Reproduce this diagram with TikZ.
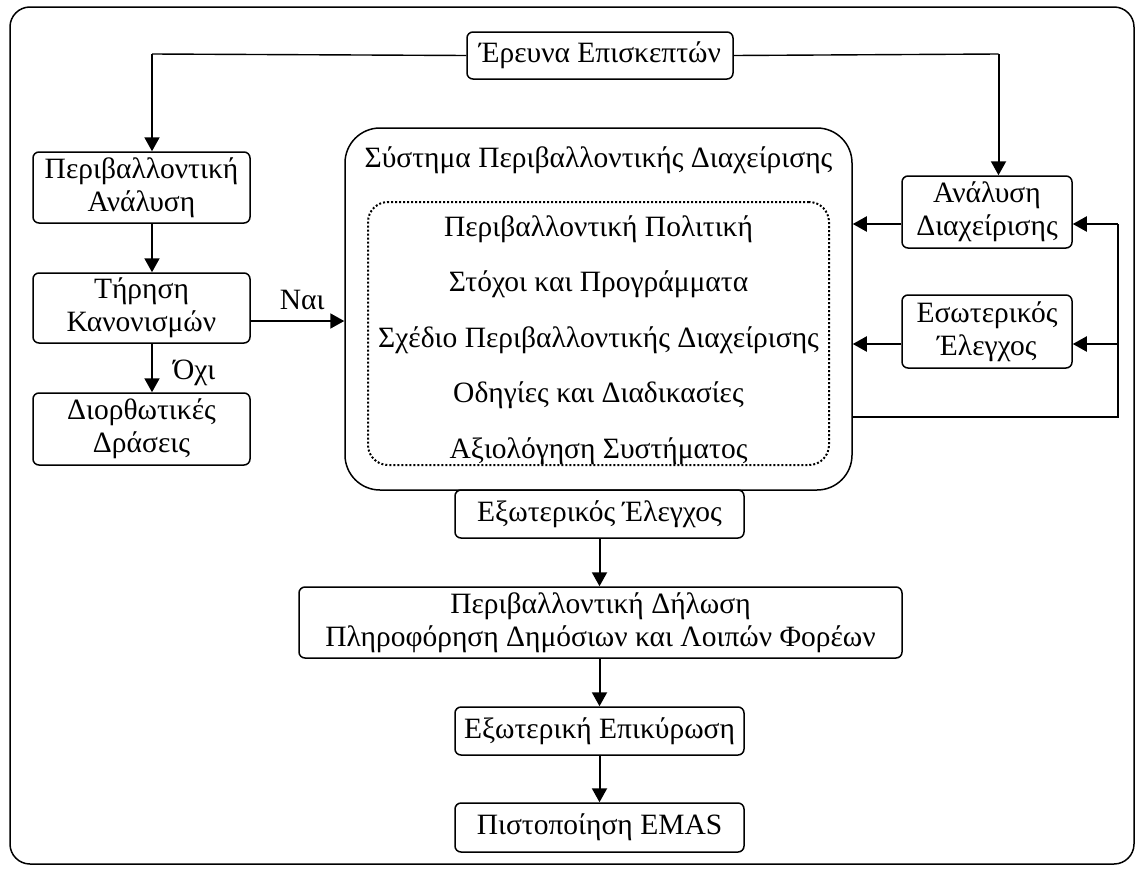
\documentclass[tikz,border=0pt]{standalone}
\usepackage{fontspec}
\setmainfont{Liberation Serif}
\usetikzlibrary{arrows.meta}
\tikzset{
  box/.style={draw, line width=1.5pt, rounded corners=6pt, align=center, inner sep=0pt,
    font=\fontsize{29.5}{33}\selectfont},
  arr/.style={line width=2pt, -{Triangle[length=14pt,width=15pt]}},
  thin/.style={line width=1.4pt},
  lbl/.style={font=\fontsize{29.5}{33}\selectfont, inner sep=0pt},
}
\begin{document}
\begin{tikzpicture}[x=1pt,y=-1pt]
\useasboundingbox (0,0) rectangle (1139,870);
% outer frame
\draw[line width=1.5pt, rounded corners=20pt] (10,7) rectangle (1134,864);

% top
\node[box, minimum width=266pt, minimum height=47pt] (ereuna) at (600,55.5) {Έρευνα Επισκεπτών};

% left column
\node[box, minimum width=217pt, minimum height=71pt] (penv) at (141.5,187.5) {Περιβαλλοντική\\Ανάλυση};
\node[box, minimum width=217pt, minimum height=70pt] (tirisi) at (141.5,308) {Τήρηση\\Κανονισμών};
\node[box, minimum width=217pt, minimum height=72pt] (dior) at (141.5,429) {Διορθωτικές\\Δράσεις};

% system box
\node[draw, line width=1.5pt, rounded corners=35pt, minimum width=507pt, minimum height=362pt, inner sep=0pt] (sys) at (598.5,309) {};
\node[lbl] (systitle) at (598.5,160) {Σύστημα Περιβαλλοντικής Διαχείρισης};
\node[draw, dotted, line width=2pt, rounded corners=20pt, minimum width=461pt, minimum height=263pt, inner sep=0pt] (inner) at (598.5,333.5) {};
\node[lbl] (l1) at (598.5,229) {Περιβαλλοντική Πολιτική};
\node[lbl] (l2) at (598.5,284.5) {Στόχοι και Προγράμματα};
\node[lbl] (l3) at (598.5,340) {Σχέδιο Περιβαλλοντικής Διαχείρισης};
\node[lbl] (l4) at (598.5,395.5) {Οδηγίες και Διαδικασίες};
\node[lbl] (l5) at (598.5,451) {Αξιολόγηση Συστήματος};

% right column
\node[box, minimum width=170pt, minimum height=72pt] (analysi) at (987,212) {Ανάλυση\\Διαχείρισης};
\node[box, minimum width=170pt, minimum height=73pt] (esot) at (987,331.5) {Εσωτερικός\\Έλεγχος};

% bottom chain
\node[box, minimum width=289pt, minimum height=48pt] (exot) at (599.5,514) {Εξωτερικός Έλεγχος};
\node[box, minimum width=603pt, minimum height=71pt] (dilosi) at (600.5,622.5) {Περιβαλλοντική Δήλωση\\Πληροφόρηση Δημόσιων και Λοιπών Φορέων};
\node[box, minimum width=289pt, minimum height=48pt] (epik) at (599.5,731) {Εξωτερική Επικύρωση};
\node[box, minimum width=289pt, minimum height=49pt] (emas) at (599.5,827.5) {Πιστοποίηση EMAS};

% coordinates
\coordinate (tl) at (152,54);
\coordinate (tr) at (998.5,54);
\coordinate (fbx) at (1118,417);

% connectors top
\draw[thin] (ereuna.west) -- (tl);
\draw[arr] (tl) -- (tl |- penv.north);
\draw[thin] (ereuna.east) -- (tr);
\draw[arr] (tr) -- (tr |- analysi.north);

% left chain
\draw[arr] ([xshift=10.5pt]penv.south) -- ([xshift=10.5pt]tirisi.north);
\draw[arr] ([xshift=10.5pt]tirisi.south) -- node[lbl, right=20pt, pos=0.6] (ochi) {Όχι} ([xshift=10.5pt]dior.north);
\draw[arr] ([yshift=-13pt]tirisi.east) -- ([yshift=-13pt]tirisi.east -| sys.west) node[lbl, pos=0.55, above=10pt] (nai) {Ναι};

% right side
\draw[arr] ([yshift=-12pt]analysi.west) -- ([yshift=-12pt]analysi.west -| sys.east);
\draw[arr] ([yshift=-12.5pt]esot.west) -- ([yshift=-12.5pt]esot.west -| sys.east);
\draw[thin] (fbx -| sys.east) -- (fbx) -- ([yshift=-12pt]analysi.east -| fbx);
\draw[arr] ([yshift=-12pt]analysi.east -| fbx) -- ([yshift=-12pt]analysi.east);
\draw[arr] ([yshift=-12.5pt]esot.east -| fbx) -- ([yshift=-12.5pt]esot.east);

% bottom chain
\draw[arr] (exot.south) -- (exot.south |- dilosi.north);
\draw[arr] (exot.south |- dilosi.south) -- (exot.south |- epik.north);
\draw[arr] (epik.south) -- (emas.north);
\end{tikzpicture}
\end{document}
